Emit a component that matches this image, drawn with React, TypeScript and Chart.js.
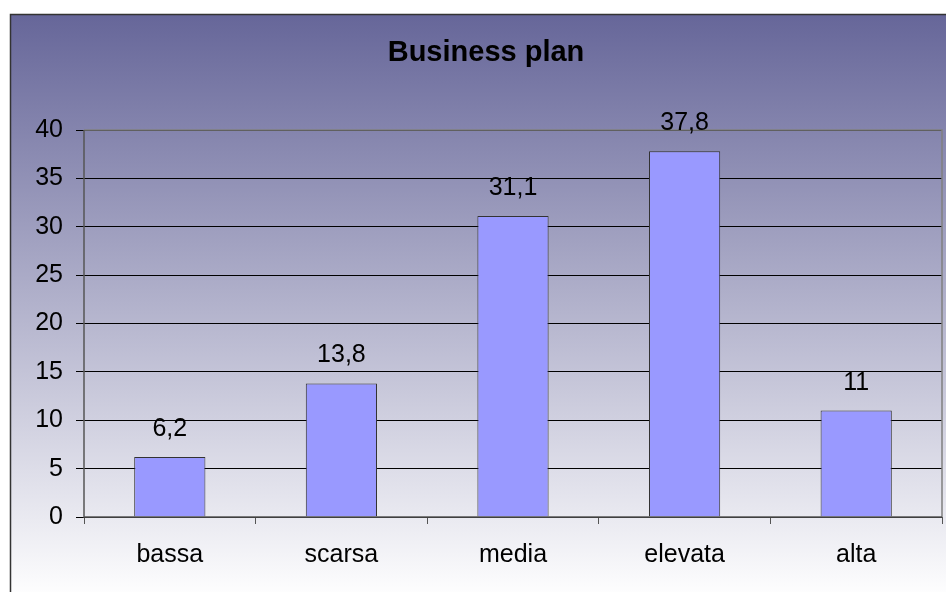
import React, { useEffect, useRef } from "react";
import { Chart, registerables } from "chart.js";

Chart.register(...registerables);

const categories = ["bassa", "scarsa", "media", "elevata", "alta"];
const values = [6.2, 13.8, 31.1, 37.8, 11];
const yTicks = [0, 5, 10, 15, 20, 25, 30, 35, 40];
const chartTitle = "Business plan";

const FONT = '"Liberation Sans", Arial, sans-serif';

export default function App() {
  const ref = useRef<HTMLCanvasElement | null>(null);

  useEffect(() => {
    document.body.style.margin = "0";
    const canvas = ref.current!;
    const framePlugin = {
      id: "frame",
      beforeDraw(chart: any) {
        const ctx = chart.ctx;
        ctx.save();
        const g = ctx.createLinearGradient(0, 14, 0, 600);
        g.addColorStop(0, "#666699");
        g.addColorStop(1, "#ffffff");
        ctx.fillStyle = g;
        ctx.fillRect(10, 14, chart.width, chart.height);
        ctx.strokeStyle = "#333333";
        ctx.lineWidth = 1.5;
        ctx.beginPath();
        ctx.moveTo(10.5, chart.height + 5);
        ctx.lineTo(10.5, 14.5);
        ctx.lineTo(chart.width + 5, 14.5);
        ctx.stroke();
        ctx.fillStyle = "#000";
        ctx.font = `bold 29px ${FONT}`;
        ctx.textAlign = "center";
        ctx.textBaseline = "alphabetic";
        ctx.fillText(chartTitle, 486, 61);
        ctx.restore();
      },
      afterDatasetsDraw(chart: any) {
        const ctx = chart.ctx;
        const a = chart.chartArea;
        ctx.save();
        ctx.strokeStyle = "#808080";
        ctx.lineWidth = 1.5;
        ctx.beginPath();
        ctx.moveTo(a.left, a.top);
        ctx.lineTo(a.right, a.top);
        ctx.lineTo(a.right, a.bottom);
        ctx.stroke();
        ctx.strokeStyle = "#555555";
        ctx.beginPath();
        ctx.moveTo(a.left, a.top);
        ctx.lineTo(a.left, a.bottom);
        ctx.lineTo(a.right, a.bottom);
        ctx.stroke();
        const meta = chart.getDatasetMeta(0);
        ctx.fillStyle = "#000";
        ctx.font = `25px ${FONT}`;
        ctx.textAlign = "center";
        ctx.textBaseline = "alphabetic";
        meta.data.forEach((bar: any, i: number) => {
          const v = values[i];
          ctx.fillText(String(v).replace(".", ","), bar.x, bar.y - 21);
        });
        ctx.restore();
      },
    };

    const chart = new Chart(canvas, {
      type: "bar",
      data: {
        labels: categories,
        datasets: [
          {
            data: values,
            backgroundColor: "#9999ff",
            borderColor: "#333333",
            borderWidth: 1,
            barPercentage: 0.415,
            categoryPercentage: 1,
          },
        ],
      },
      options: {
        responsive: false,
        animation: false,
        devicePixelRatio: 1,
        layout: { padding: { left: 10, top: 130, right: 4, bottom: 0 } },
        plugins: {
          legend: { display: false },
          title: { display: false },
          tooltip: { enabled: false },
        },
        scales: {
          x: {
            grid: {
              offset: true,
              drawOnChartArea: false,
              drawTicks: true,
              tickLength: 7,
              color: "#555555",
            },
            border: { display: false },
            ticks: {
              color: "#000",
              padding: 16,
              font: { family: FONT, size: 25 },
            },
            afterFit(scale: any) {
              scale.height = 75;
            },
          },
          y: {
            min: 0,
            max: 40,
            afterBuildTicks(scale: any) {
              scale.ticks = yTicks.map((v) => ({ value: v }));
            },
            grid: {
              color: "#000000",
              lineWidth: 1,
              drawTicks: true,
              tickLength: 8,
            },
            border: { display: false },
            ticks: {
              color: "#000",
              padding: 13,
              font: { family: FONT, size: 25 },
            },
            afterFit(scale: any) {
              scale.width = 74;
            },
          },
        },
      },
      plugins: [framePlugin],
    });
    return () => chart.destroy();
  }, []);

  return (
    <div style={{ width: 946, height: 592 }}>
      <canvas ref={ref} width={946} height={592} style={{ display: "block" }} />
    </div>
  );
}
